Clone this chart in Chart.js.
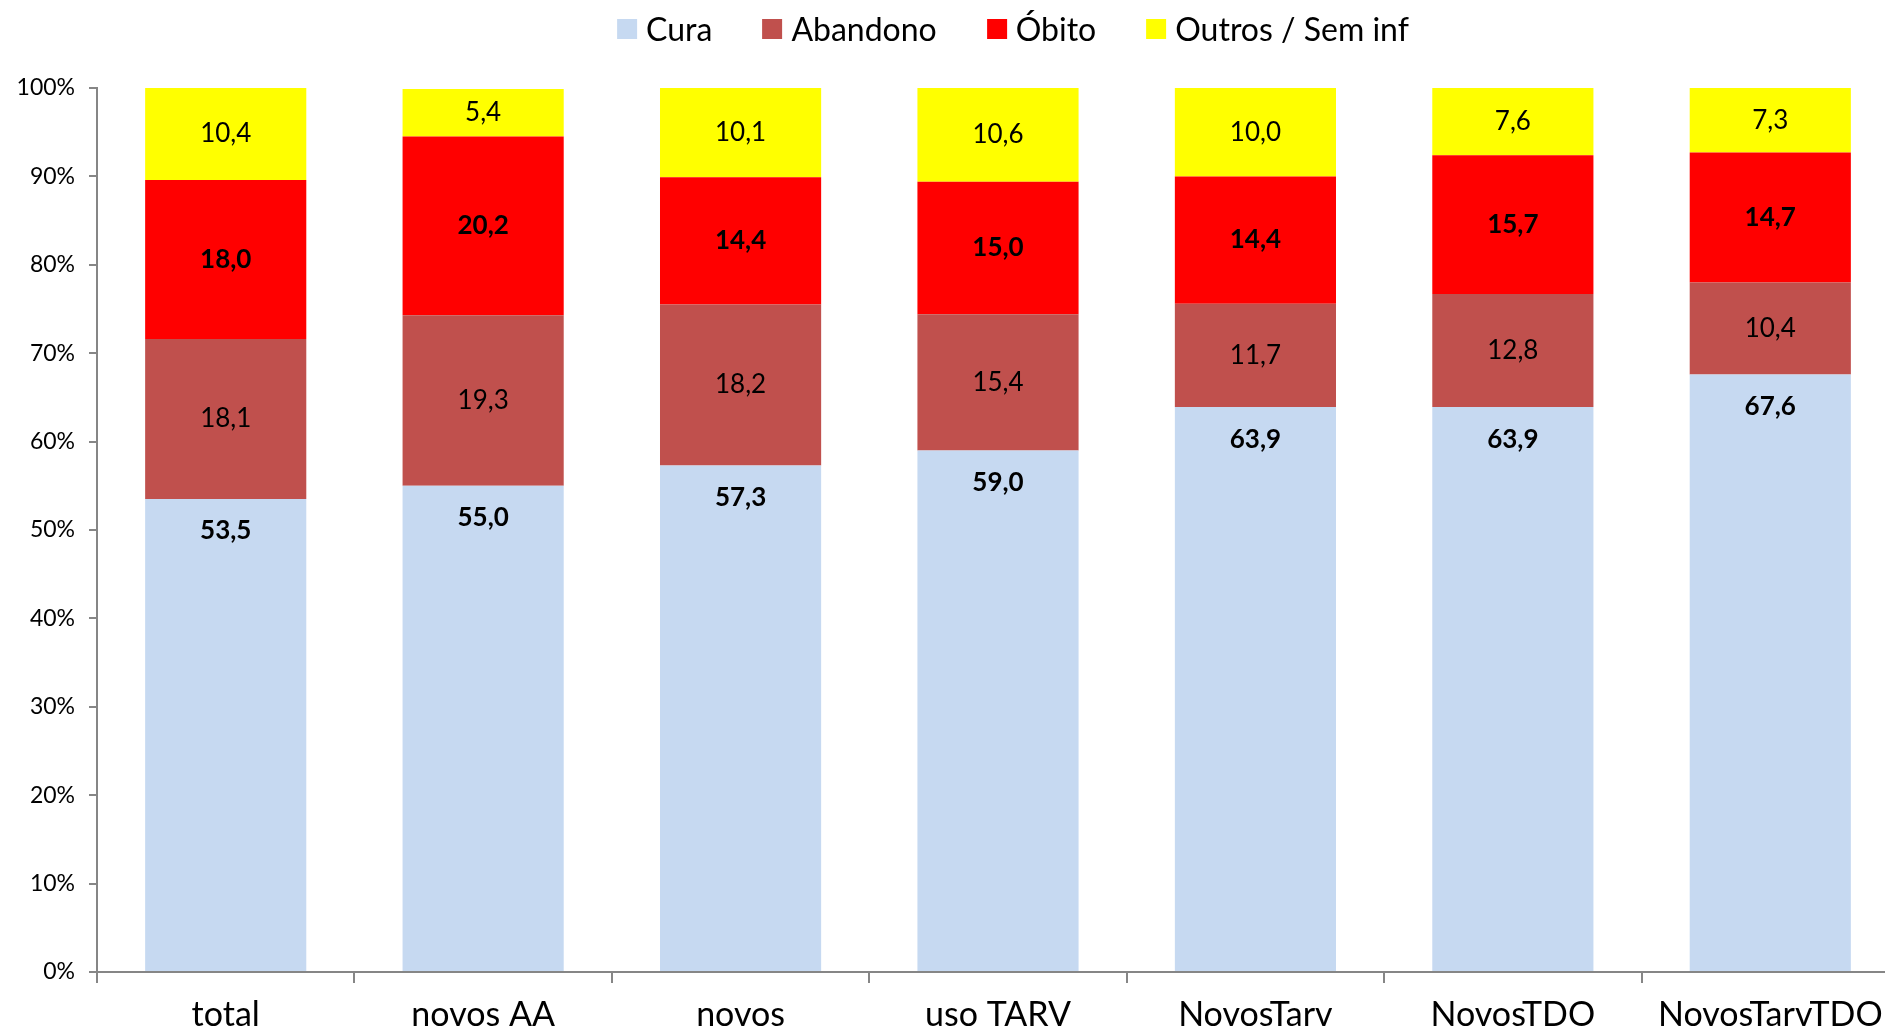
<!DOCTYPE html>
<html lang="pt">
<head>
<meta charset="utf-8">
<script src="https://cdn.jsdelivr.net/npm/chart.js@4"></script>
<style>
    html, body { margin: 0; padding: 0; background: #fff; overflow: hidden; }
    #wrap { position: relative; width: 1905px; height: 1036px; }
    #legenda {
        position: absolute; top: 9px; left: 1013px; transform: translateX(-50%);
        display: flex; gap: 50px; align-items: center; white-space: nowrap;
        font: 32px Lato, "Open Sans", sans-serif; color: #000;
    }
    #legenda span.item { display: flex; align-items: center; gap: 9px; }
    #legenda span.box { width: 20px; height: 20px; display: inline-block; }
</style>
</head>
<body>
<div id="wrap">
    <canvas id="grafico"></canvas>
    <div id="legenda"></div>
</div>
<script>
const categorias = ["total", "novos AA", "novos", "uso TARV", "NovosTarv", "NovosTDO", "NovosTarvTDO"];
const cura = [53.5, 55.0, 57.3, 59.0, 63.9, 63.9, 67.6];
const abandono = [18.1, 19.3, 18.2, 15.4, 11.7, 12.8, 10.4];
const obito = [18.0, 20.2, 14.4, 15.0, 14.4, 15.7, 14.7];
const outros = [10.4, 5.4, 10.1, 10.6, 10.0, 7.6, 7.3];
const yTicks = [0, 10, 20, 30, 40, 50, 60, 70, 80, 90, 100];

const series = [
    { label: "Cura", data: cura, cor: "#c6d9f1", negrito: true, topo: true },
    { label: "Abandono", data: abandono, cor: "#c0504d", negrito: false },
    { label: "Óbito", data: obito, cor: "#ff0000", negrito: true },
    { label: "Outros / Sem inf", data: outros, cor: "#ffff00", negrito: false }
];

// legenda em html, deslocada como no original
const legenda = document.getElementById("legenda");
series.forEach(s => {
    const item = document.createElement("span");
    item.className = "item";
    const box = document.createElement("span");
    box.className = "box";
    box.style.background = s.cor;
    item.appendChild(box);
    item.appendChild(document.createTextNode(s.label));
    legenda.appendChild(item);
});

const rotulosPlugin = {
    id: "rotulos",
    afterDatasetsDraw(chart) {
        const { ctx } = chart;
        ctx.save();
        ctx.textAlign = "center";
        ctx.textBaseline = "middle";
        ctx.fillStyle = "#000";
        series.forEach((s, i) => {
            const meta = chart.getDatasetMeta(i);
            ctx.font = (s.negrito ? "bold " : "") + "26px Lato, sans-serif";
            meta.data.forEach((bar, j) => {
                const texto = s.data[j].toFixed(1).replace(".", ",");
                const y = s.topo ? bar.y + 32 : (bar.y + bar.base) / 2;
                ctx.fillText(texto, bar.x, y);
            });
        });
        ctx.restore();
    }
};

const eixoCor = "#868686";

new Chart(document.getElementById("grafico"), {
    type: "bar",
    data: {
        labels: categorias,
        datasets: series.map(s => ({
            label: s.label,
            data: s.data,
            backgroundColor: s.cor,
            borderWidth: 0,
            barPercentage: 0.626,
            categoryPercentage: 1.0
        }))
    },
    plugins: [rotulosPlugin],
    options: {
        responsive: true,
        maintainAspectRatio: false,
        animation: false,
        layout: { padding: { top: 88, right: 6, bottom: 0, left: 0 } },
        plugins: {
            legend: { display: false },
            tooltip: { enabled: false }
        },
        scales: {
            x: {
                stacked: true,
                afterFit: scale => { scale.height = 64; },
                border: { color: eixoCor, width: 2 },
                grid: {
                    display: true,
                    drawOnChartArea: false,
                    drawTicks: true,
                    tickLength: 11,
                    color: eixoCor,
                    lineWidth: 2,
                    offset: true
                },
                ticks: {
                    color: "#000",
                    padding: 12,
                    maxRotation: 0,
                    font: { family: "Lato, sans-serif", size: 34 }
                }
            },
            y: {
                stacked: true,
                min: 0,
                max: 100,
                afterFit: scale => { scale.width = 97; },
                afterBuildTicks: scale => { scale.ticks = yTicks.map(v => ({ value: v })); },
                border: { color: eixoCor, width: 2 },
                grid: {
                    display: true,
                    drawOnChartArea: false,
                    drawTicks: true,
                    tickLength: 8,
                    color: eixoCor,
                    lineWidth: 2
                },
                ticks: {
                    color: "#000",
                    padding: 14,
                    font: { family: "Lato, sans-serif", size: 23 },
                    callback: v => v + "%"
                }
            }
        }
    }
});
</script>
</body>
</html>
